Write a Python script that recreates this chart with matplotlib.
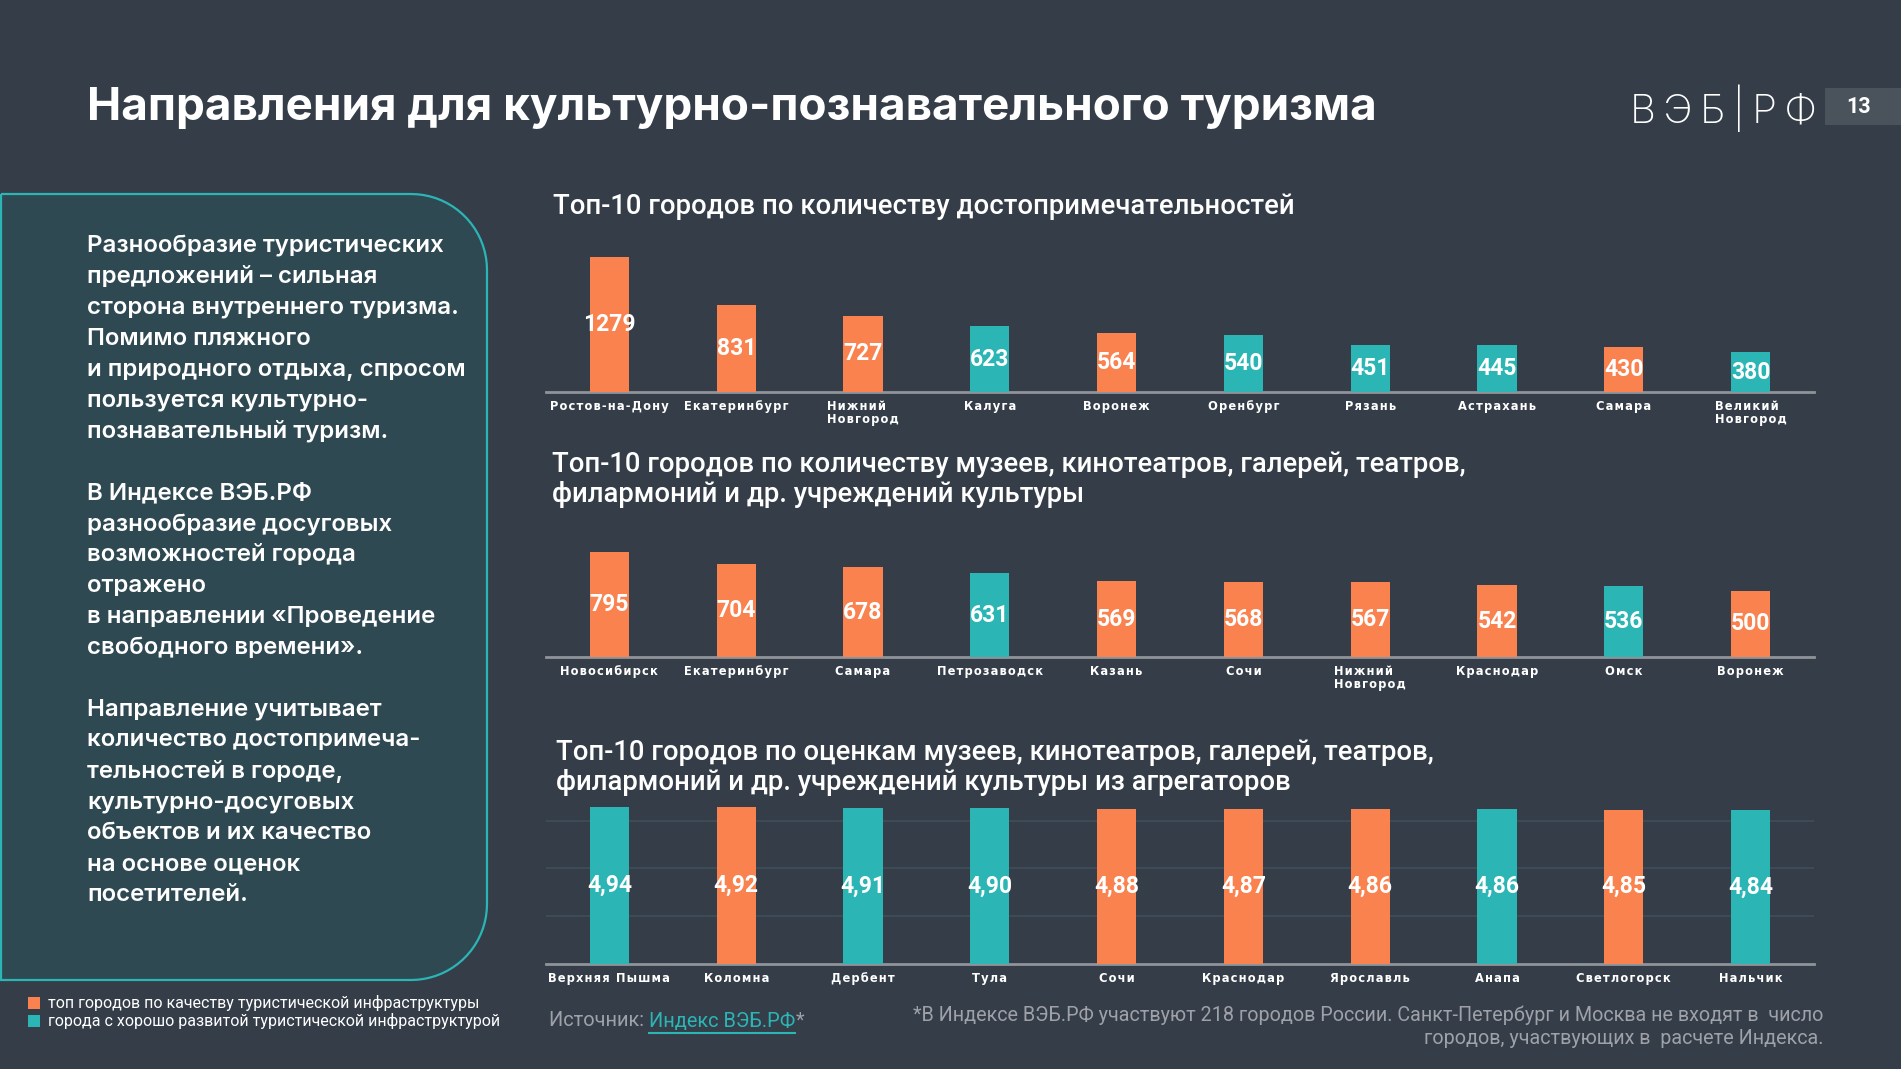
import numpy as np
import matplotlib
matplotlib.use("Agg")
import matplotlib.pyplot as plt
from matplotlib.path import Path
from matplotlib.patches import PathPatch, Rectangle
from matplotlib import font_manager

W, H = 1901, 1069
BG = "#343d48"
PANEL = "#2f4953"
ORANGE = "#fa824f"
TEAL = "#2bb5b5"
GREY = "#9fa1a8"
AXIS = "#8f949b"

names = {f.name for f in font_manager.fontManager.ttflist}
def pick(*fams):
    for f in fams:
        if f in names:
            return f
    return "DejaVu Sans"

F_TITLE = pick("Inter", "Noto Sans")
F_BODY = pick("Inter", "Noto Sans")
F_SUB = pick("Roboto", "Noto Sans")
F_NUM = pick("Liberation Sans Narrow", "Roboto")
F_TICK = "DejaVu Sans"

# ---- data
cities1 = ["Ростов-на-Дону", "Екатеринбург", "Нижний\nНовгород", "Калуга", "Воронеж",
           "Оренбург", "Рязань", "Астрахань", "Самара", "Великий\nНовгород"]
values1 = [1279, 831, 727, 623, 564, 540, 451, 445, 430, 380]
group1 = ["o", "o", "o", "t", "o", "t", "t", "t", "o", "t"]

cities2 = ["Новосибирск", "Екатеринбург", "Самара", "Петрозаводск", "Казань",
           "Сочи", "Нижний\nНовгород", "Краснодар", "Омск", "Воронеж"]
values2 = [795, 704, 678, 631, 569, 568, 567, 542, 536, 500]
group2 = ["o", "o", "o", "t", "o", "o", "o", "o", "t", "o"]

cities3 = ["Верхняя Пышма", "Коломна", "Дербент", "Тула", "Сочи",
           "Краснодар", "Ярославль", "Анапа", "Светлогорск", "Нальчик"]
values3 = [4.94, 4.92, 4.91, 4.90, 4.88, 4.87, 4.86, 4.86, 4.85, 4.84]
group3 = ["t", "o", "t", "t", "o", "o", "o", "t", "o", "t"]

title1 = "Топ-10 городов по количеству достопримечательностей"
title2 = ["Топ-10 городов по количеству музеев, кинотеатров, галерей, театров,",
          "филармоний и др. учреждений культуры"]
title3 = ["Топ-10 городов по оценкам музеев, кинотеатров, галерей, театров,",
          "филармоний и др. учреждений культуры из агрегаторов"]

panel_lines = ["Разнообразие туристических", "предложений – сильная",
               "сторона внутреннего туризма.", "Помимо пляжного",
               "и природного отдыха, спросом", "пользуется культурно-",
               "познавательный туризм.", "",
               "В Индексе ВЭБ.РФ", "разнообразие досуговых",
               "возможностей города", "отражено",
               "в направлении «Проведение", "свободного времени».", "",
               "Направление учитывает", "количество достопримеча-",
               "тельностей в городе,", "культурно-досуговых",
               "объектов и их качество", "на основе оценок", "посетителей."]

legend_labels = ["топ городов по качеству туристической инфраструктуры",
                 "города с хорошо развитой туристической инфраструктурой"]
footnote = ["*В Индексе ВЭБ.РФ участвуют 218 городов России. Санкт-Петербург и Москва не входят в  число",
            "городов, участвующих в  расчете Индекса."]

colmap = {"o": ORANGE, "t": TEAL}

fig = plt.figure(figsize=(W / 100, H / 100), dpi=100, facecolor=BG)
bg = fig.add_axes([0, 0, 1, 1])
bg.set_xlim(0, W)
bg.set_ylim(H, 0)
bg.axis("off")

# left panel with rounded right corners
x0, x1, y0, y1, r = 1, 487, 194, 980, 76
t = np.linspace(0, np.pi / 2, 20)
verts = [(x0, y0), (x1 - r, y0)]
verts += [(x1 - r + r * np.sin(a), y0 + r - r * np.cos(a)) for a in t]
verts += [(x1, y1 - r)]
verts += [(x1 - r + r * np.cos(a), y1 - r + r * np.sin(a)) for a in t]
verts += [(x0, y1), (x0, y0)]
bg.add_patch(PathPatch(Path(verts), facecolor=PANEL, edgecolor=TEAL, lw=1.6))

for i, line in enumerate(panel_lines):
    bg.text(87, 246 + i * 30.9, line, color="white", fontsize=17.3, family=F_BODY,
            weight="semibold", va="center", ha="left")

# title, logo, page number
bg.text(87, 108, "Направления для культурно-познавательного туризма", color="white",
        fontsize=33, family=F_TITLE, weight="bold", va="center")
bg.text(1630, 108, "\u2009".join("ВЭБ|РФ"), color="white", fontsize=29, family=F_TITLE,
        weight="light", va="center")
bg.add_patch(Rectangle((1825, 88), 80, 37, facecolor="#4a525c", edgecolor="none"))
bg.text(1846, 107, "13", color="white", fontsize=15.5, family=F_SUB, weight="bold", va="center")

# legend
for k, (lab, c) in enumerate(zip(legend_labels, [ORANGE, TEAL])):
    bg.add_patch(Rectangle((28, 997 + k * 18), 12, 12, facecolor=c, edgecolor="none"))
    bg.text(48, 1003 + k * 18, lab, color="white", fontsize=11.5, family=F_SUB, va="center")

# chart titles
bg.text(553, 207, title1, color="white", fontsize=19.8, family=F_SUB, weight="medium", va="center")
for k, line in enumerate(title2):
    bg.text(552, 465 + k * 29.5, line, color="white", fontsize=19.8, family=F_SUB,
            weight="medium", va="center")
for k, line in enumerate(title3):
    bg.text(556, 753 + k * 29.5, line, color="white", fontsize=19.8, family=F_SUB,
            weight="medium", va="center")


def spaced(s):
    return "\n".join("\u200a".join(p) for p in s.split("\n"))


def bars(base_y, height_px, ymax, cities, vals, groups, fmt, grid=None):
    ax = fig.add_axes([546 / W, (H - base_y) / H, 1268 / W, height_px / H])
    ax.set_facecolor("none")
    x = np.arange(len(vals))
    ax.bar(x, vals, width=0.31, color=[colmap[g] for g in groups], zorder=3)
    for xi, v in zip(x, vals):
        ax.text(xi, v / 2, fmt(v), ha="center", va="center", color="white",
                fontsize=16.5, family=F_NUM, weight="bold", zorder=4)
    ax.set_xlim(-0.5, len(vals) - 0.5)
    ax.set_ylim(0, ymax)
    ax.set_xticks(x)
    ax.set_xticklabels([spaced(c) for c in cities], color="white", fontsize=8.3,
                       family=F_TICK, weight="bold", va="top", multialignment="left",
                       linespacing=1.0)
    ax.tick_params(axis="x", length=0, pad=6)
    ax.tick_params(axis="y", left=False, labelleft=False)
    for s in ["top", "right", "left"]:
        ax.spines[s].set_visible(False)
    ax.spines["bottom"].set_color(AXIS)
    ax.spines["bottom"].set_linewidth(2)
    if grid is not None:
        ax.set_yticks(grid)
        ax.grid(axis="y", color="#3f4d5a", lw=1.3, zorder=0)
    else:
        ax.set_yticks([])
    return ax


bars(392, 150, 150 / 0.1052, cities1, values1, group1, lambda v: str(v))
bars(657, 120, 120 / 0.1327, cities2, values2, group2, lambda v: str(v))
bars(964, 170, 170 / 31.85, cities3, values3, group3,
     lambda v: f"{v:.2f}".replace(".", ","), grid=[1.5, 3.0, 4.5])

# source with link-style part
fig.canvas.draw()
rend = fig.canvas.get_renderer()
t1 = bg.text(549, 1021, "Источник: ", color=GREY, fontsize=14.4, family=F_SUB, va="center")
e1 = t1.get_window_extent(rend)
t2 = bg.text(e1.x1, 1021, "Индекс ВЭБ.РФ", color=TEAL, fontsize=14.4, family=F_SUB, va="center")
e2 = t2.get_window_extent(rend)
bg.plot([e2.x0, e2.x1], [H - e2.y0 + 2, H - e2.y0 + 2], color=TEAL, lw=1.5)
bg.text(e2.x1, 1021, "*", color=GREY, fontsize=14.4, family=F_SUB, va="center")

for k, line in enumerate(footnote):
    bg.text(1823, 1015 + k * 24, line, color=GREY, fontsize=14.2, family=F_SUB,
            va="center", ha="right")

fig.savefig("out.png", dpi=100, facecolor=BG)
